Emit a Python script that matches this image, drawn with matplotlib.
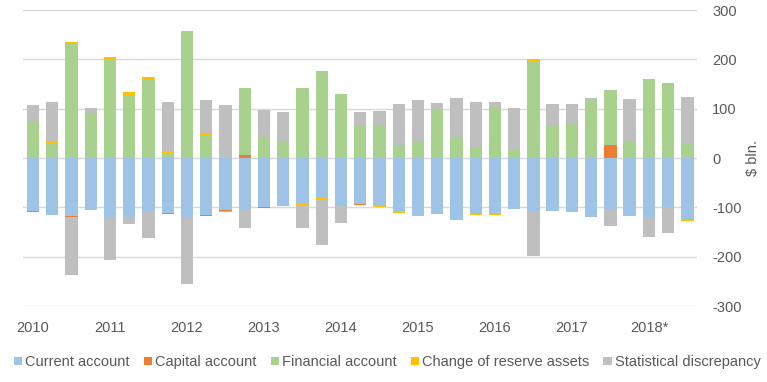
import numpy as np
import matplotlib
matplotlib.use('Agg')
import matplotlib.pyplot as plt

plt.rcParams['font.family'] = ['Liberation Sans', 'DejaVu Sans']
plt.rcParams['axes.unicode_minus'] = False

# quarterly balance of payments, 2010Q1 .. 2018Q3, $ bln.
current = [-108, -115, -117, -103, -119, -120, -108, -112, -120, -116, -105, -104,
           -99, -95, -92, -80, -95, -94, -97, -107, -115, -112, -123, -112, -112,
           -103, -108, -108, -107, -120, -103, -116, -120, -100, -125]
capital = [-2, -1.5, -2, 0, 0, 0, 0, -2, 0, -2, -1.5, 7,
           -2, 0, 0, 0, 0, -2, 0, 0, 0, 0, 0, 0, 0,
           0, 0, 0, 0, 0, 26, 0, 0, 0, 0]
financial = [76, 30, 233, 92, 201, 128, 160, 10, 256, 47, -2, 134,
             43, 34, 141, 176, 130, 67, 66, 26, 35, 100, 43, 23, 103,
             17, 197, 64, 68, 120, 112, 34, 161, 151, 31]
reserve = [0, 3, 3, -1.5, 4, 6, 3.5, 1.5, 2, 4, 0, 0,
           0, -2, -3, -3, -1.5, 0, -2, -3.5, -3.5, -2, -2, -3, -3,
           0, 3, 2, -1.5, 0, 0, -2, 0, 2, -2]
stat = [32, 80, -118, 10, -87, -14, -55, 101, -136, 66, 108, -37,
        55, 60, -47, -93, -35, 27, 30, 84, 83, 12, 79, 91, 10,
        85, -91, 43, 41, 2, -34, 85, -41, -53, 93]

years = ['2010', '2011', '2012', '2013', '2014', '2015', '2016', '2017', '2018*']
names = ['Current account', 'Capital account', 'Financial account',
         'Change of reserve assets', 'Statistical discrepancy']
colors = ['#9DC3E6', '#ED7D31', '#A9D18E', '#FFC000', '#BFBFBF']
txt = '#595959'
fs = 10.5

fig = plt.figure(figsize=(7.67, 3.82), dpi=100)
ax = fig.add_axes([23 / 767, 1 - 306 / 382, 674 / 767, 296 / 382])

x = np.arange(len(current))
pos = np.zeros(len(x))
neg = np.zeros(len(x))
for vals, name, c in zip([current, capital, financial, reserve, stat], names, colors):
    v = np.array(vals, dtype=float)
    bottom = np.where(v >= 0, pos, neg)
    ax.bar(x, v, 0.64, bottom=bottom, color=c, label=name, zorder=3)
    pos = pos + np.clip(v, 0, None)
    neg = neg + np.clip(v, None, 0)

ax.set_ylim(-300, 300)
ax.set_xlim(-0.52, 34.5)
ax.set_yticks(range(-300, 301, 100))
ax.yaxis.tick_right()
ax.grid(axis='y', color='#D9D9D9', linewidth=1, zorder=0)
ax.set_xticks(np.arange(0, len(x), 4))
ax.set_xticklabels(years)
ax.tick_params(axis='x', length=0, pad=11, labelsize=fs, labelcolor=txt)
ax.tick_params(axis='y', length=0, pad=11, labelsize=fs, labelcolor=txt)
for s in ax.spines.values():
    s.set_visible(False)

ax.yaxis.set_label_position('right')
ax.set_ylabel('$ bln.', color=txt, fontsize=fs)
ax.yaxis.set_label_coords(1.072, 0.5)

fig.legend(loc='center', bbox_to_anchor=(0.505, 0.052), ncol=5, frameon=False,
           fontsize=fs, labelcolor=txt, handlelength=0.55, handleheight=0.55,
           handletextpad=0.25, columnspacing=0.95, borderaxespad=0, borderpad=0)

fig.savefig('out.png', dpi=100)
